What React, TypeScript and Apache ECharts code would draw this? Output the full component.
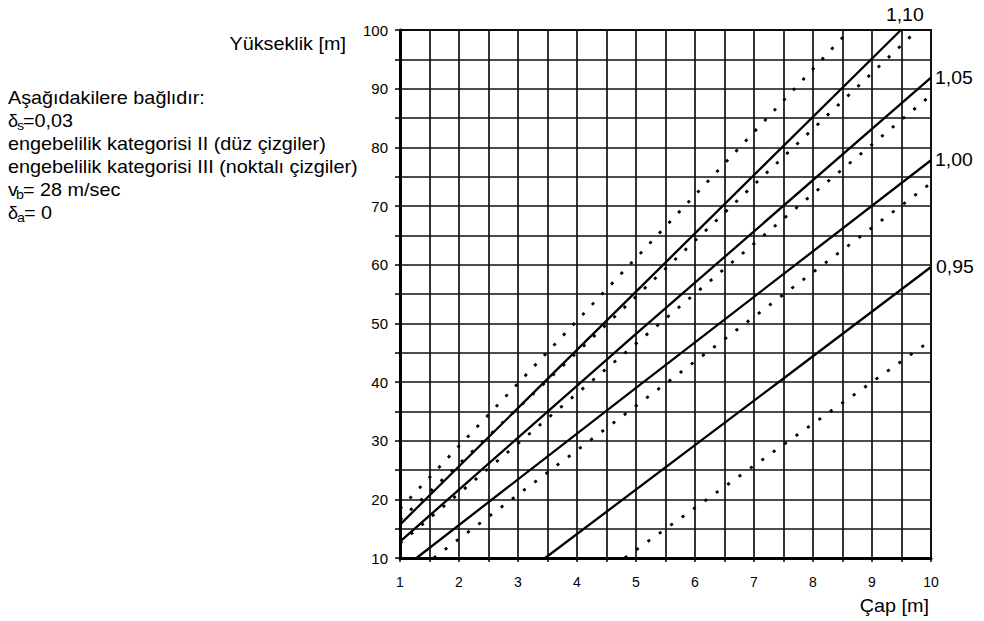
import React, { useEffect, useRef } from "react";
import * as echarts from "echarts";

// ---- data ----
const xRange = [1, 10];
const yRange = [10, 100];
const xStep = 0.5;
const yStep = 5;

// Solid lines (engebelilik kategorisi II)
const solid110 = [[1, 15.7], [5, 55.4], [9.49, 100]];
const solid105 = [[1, 12.8], [5, 48.2], [10, 91.9]];
const solid100 = [[1.28, 10], [5, 39.0], [10, 77.8]];
const solid095 = [[3.46, 10], [7.5, 40.6], [10, 59.6]];

// Dotted lines (engebelilik kategorisi III)
const dottedA = [[1, 18.4], [5.1, 62.2], [8.62, 100]];
const dottedB = [[1, 16.5], [6.2, 66.0], [9.77, 100]];
const dottedC = [[1, 12.5], [7.85, 70.8], [10, 88.9]];
const dottedD = [[1.57, 10], [5.13, 36.9], [10, 73.9]];
const dottedE = [[4.81, 10], [7.51, 29.4], [10, 47.1]];

const curveLabels = ["1,10", "1,05", "1,00", "0,95"];
const solidSeries = [solid110, solid105, solid100, solid095];
const dottedSeries = [dottedA, dottedB, dottedC, dottedD, dottedE];

const infoLines = [
  "Aşağıdakilere bağlıdır:",
  "engebelilik kategorisi II (düz çizgiler)",
  "engebelilik kategorisi III (noktalı çizgiler)",
];
const yAxisTitle = "Yükseklik [m]";
const xAxisTitle = "Çap [m]";

const FONT = "'Liberation Sans', Arial, Helvetica, sans-serif";

function txt(text: string, x: number, y: number, size: number, align = "left", sx = 1.1) {
  return {
    type: "text",
    x,
    y,
    scaleX: sx,
    silent: true,
    style: {
      text,
      fill: "#000",
      fontSize: size,
      fontFamily: FONT,
      align,
      textAlign: align,
      verticalAlign: "middle",
      textVerticalAlign: "middle",
    },
  };
}

export default function App() {
  const ref = useRef<HTMLDivElement>(null);
  useEffect(() => {
    const chart = echarts.init(ref.current!, null, { renderer: "svg" });
    const mk = (data: number[][], dotted: boolean) => ({
      type: "line",
      data,
      symbol: "none",
      silent: true,
      z: dotted ? 3 : 4,
      lineStyle: {
        color: "#000",
        width: dotted ? 2.8 : 2.3,
        type: dotted ? [3, 11] : "solid",
        cap: "butt",
      },
    });
    chart.setOption({
      animation: false,
      backgroundColor: "#fff",
      textStyle: { fontFamily: FONT },
      grid: {
        left: 400,
        right: 53,
        top: 30,
        bottom: 63,
        show: true,
        borderColor: "#000",
        borderWidth: 1.8,
      },
      xAxis: {
        type: "value",
        min: xRange[0],
        max: xRange[1],
        interval: xStep,
        axisLine: { show: true, onZero: false, lineStyle: { color: "#000", width: 3 } },
        axisTick: { show: true, length: 4, lineStyle: { color: "#000", width: 1.5 } },
        splitLine: { show: true, lineStyle: { color: "#111", width: 1.7 } },
        axisLabel: {
          margin: 17,
          fontSize: 14,
          color: "#000",
          fontFamily: FONT,
          formatter: (v: number) => (Number.isInteger(v) ? String(v) : ""),
        },
      },
      yAxis: {
        type: "value",
        min: yRange[0],
        max: yRange[1],
        interval: yStep,
        axisLine: { show: true, onZero: false, lineStyle: { color: "#000", width: 3 } },
        axisTick: { show: true, length: 5, lineStyle: { color: "#000", width: 1.5 } },
        splitLine: { show: true, lineStyle: { color: "#111", width: 1.7 } },
        axisLabel: {
          margin: 12,
          fontSize: 15,
          color: "#000",
          fontFamily: FONT,
          formatter: (v: number) => (v % 10 === 0 ? String(v) : ""),
        },
      },
      series: [
        ...solidSeries.map((d) => mk(d, false)),
        ...dottedSeries.map((d) => mk(d, true)),
      ],
    });

    // curve value labels placed at the ends of the solid lines
    const offsets = [
      [-15, -15.5],
      [4, 0],
      [4, 0],
      [5, 0],
    ];
    const labelEls = solidSeries.map((d, i) => {
      const end = d[d.length - 1];
      const p = chart.convertToPixel({ gridIndex: 0 }, end) as number[];
      return txt(curveLabels[i], p[0] + offsets[i][0], p[1] + offsets[i][1], 18, "left", 1.08);
    });

    const base = [97.5, 120.5, 143.5, 166.5, 189.5, 212.5];
    const graphics: any[] = [
      txt(infoLines[0], 8, base[0], 18),
      txt("δ", 8, base[1], 18, "left", 1),
      txt("s", 17, base[1] + 5, 13),
      txt("=0,03", 23, base[1], 18),
      txt(infoLines[1], 8, base[2], 18),
      txt(infoLines[2], 8, base[3], 18),
      txt("v", 8, base[4], 18),
      txt("b", 16, base[4] + 5, 13),
      txt("= 28 m/sec", 23, base[4], 18),
      txt("δ", 8, base[5], 18, "left", 1),
      txt("a", 17, base[5] + 5, 13),
      txt("= 0", 24, base[5], 18),
      txt(yAxisTitle, 346, 44, 18, "right"),
      txt(xAxisTitle, 929, 606, 18, "right"),
      ...labelEls,
    ];
    chart.setOption({ graphic: graphics });

    return () => chart.dispose();
  }, []);

  return (
    <div
      ref={ref}
      style={{ position: "absolute", left: 0, top: 0, width: 984, height: 621 }}
    />
  );
}
